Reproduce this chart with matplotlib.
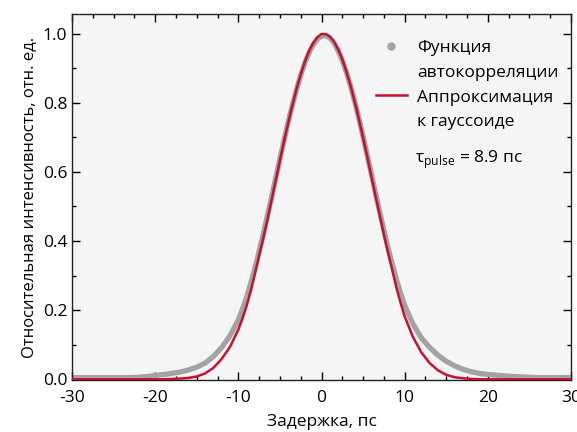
import matplotlib
matplotlib.use('Agg')
import matplotlib.pyplot as plt
import numpy as np
from matplotlib.ticker import MultipleLocator, FormatStrFormatter

plt.rcParams['font.family'] = ['Open Sans', 'DejaVu Sans']
plt.rcParams['axes.unicode_minus'] = False
plt.rcParams['mathtext.fontset'] = 'custom'
plt.rcParams['mathtext.rm'] = 'Open Sans'

# delay, ps (whole ps over full range)
delay_int = np.arange(-30, 31)
# extra half-ps points around the peak
delay_half = np.arange(-9.5, 10, 1.0)

autocorr_int = [0.005, 0.005, 0.005, 0.005, 0.005, 0.005, 0.005, 0.005, 0.006, 0.008,
                0.011, 0.014, 0.017, 0.021, 0.027, 0.035, 0.047, 0.066, 0.092, 0.126,
                0.172, 0.237, 0.322, 0.420, 0.527, 0.638, 0.745, 0.839, 0.916, 0.968,
                0.993,
                0.988, 0.951, 0.888, 0.803, 0.702, 0.593, 0.484, 0.380, 0.290, 0.214,
                0.160, 0.120, 0.092, 0.070, 0.052, 0.039, 0.029, 0.022, 0.017, 0.014,
                0.012, 0.010, 0.008, 0.007, 0.006, 0.005, 0.005, 0.005, 0.005, 0.005]
autocorr_half = [0.203, 0.278, 0.370, 0.474, 0.583, 0.692, 0.793, 0.880, 0.945, 0.984,
                 0.994, 0.973, 0.922, 0.848, 0.754, 0.648, 0.538, 0.431, 0.334, 0.250]

# gaussian fit
gauss_int = [0.000, 0.000, 0.000, 0.000, 0.000, 0.000, 0.000, 0.000, 0.000, 0.000,
             0.000, 0.000, 0.001, 0.002, 0.004, 0.008, 0.017, 0.033, 0.059, 0.094,
             0.144, 0.213, 0.306, 0.409, 0.519, 0.633, 0.743, 0.840, 0.919, 0.973,
             0.999,
             0.992, 0.955, 0.890, 0.803, 0.699, 0.587, 0.475, 0.367, 0.266, 0.182,
             0.122, 0.078, 0.047, 0.026, 0.013, 0.006, 0.003, 0.001, 0.000, 0.000,
             0.000, 0.000, 0.000, 0.000, 0.000, 0.000, 0.000, 0.000, 0.000, 0.000]
gauss_half = [0.176, 0.256, 0.358, 0.462, 0.576, 0.689, 0.793, 0.882, 0.950, 0.990,
              0.999, 0.977, 0.926, 0.849, 0.753, 0.644, 0.530, 0.419, 0.317, 0.222]

tau_pulse = 8.9


def merge(x1, y1, x2, y2):
    x = np.concatenate([x1, x2])
    y = np.concatenate([y1, y2])
    order = np.argsort(x)
    return x[order], y[order]


t_ac, v_ac = merge(delay_int, autocorr_int, delay_half, autocorr_half)
t_g, v_g = merge(delay_int, gauss_int, delay_half, gauss_half)

fig = plt.figure(figsize=(5.77, 4.32), dpi=100)
ax = fig.add_axes([0.1248, 0.1204, 0.8648, 0.8472])
ax.set_facecolor('#f5f5f5')

ax.plot(t_ac, v_ac, color='#a3a3a3', lw=3.8, solid_capstyle='round',
        solid_joinstyle='round', zorder=2)
ax.plot(t_g, v_g, color='#c8102e', lw=1.8, solid_joinstyle='round', zorder=3)

# legend handles
h_dot, = ax.plot([], [], 'o', color='#a3a3a3', markersize=5)
h_line, = ax.plot([], [], '-', color='#c8102e', lw=1.8)
h_none, = ax.plot([], [], linestyle='none')
ax.legend([h_dot, h_none, h_line, h_none],
          ['Функция', 'автокорреляции', 'Аппроксимация', 'к гауссоиде'],
          loc='upper right', frameon=False, fontsize=12.5,
          handlelength=1.8, handletextpad=0.6, labelspacing=0.5,
          borderaxespad=0.3, bbox_to_anchor=(1.0, 0.963))

ax.text(0.687, 0.602, r'τ$_{\rm pulse}$ = ' + f'{tau_pulse} пс',
        transform=ax.transAxes, fontsize=12.5, va='center', ha='left')

ax.set_xlim(-30, 30)
ax.set_ylim(-0.002, 1.057)
ax.xaxis.set_major_locator(MultipleLocator(10))
ax.xaxis.set_minor_locator(MultipleLocator(2.5))
ax.yaxis.set_major_locator(MultipleLocator(0.2))
ax.yaxis.set_minor_locator(MultipleLocator(0.1))
ax.yaxis.set_major_formatter(FormatStrFormatter('%.1f'))
ax.tick_params(which='both', direction='in', top=True, right=True, labelsize=12.5)
ax.tick_params(axis='x', which='major', pad=7)
ax.tick_params(which='major', length=6, width=1)
ax.tick_params(which='minor', length=3, width=1)
for s in ax.spines.values():
    s.set_color('#222222')
    s.set_linewidth(1.0)

ax.set_xlabel('Задержка, пс', fontsize=12.5, labelpad=6)
ax.set_ylabel('Относительная интенсивность, отн. ед.', fontsize=12, labelpad=4)

fig.savefig('out.png', dpi=100)
